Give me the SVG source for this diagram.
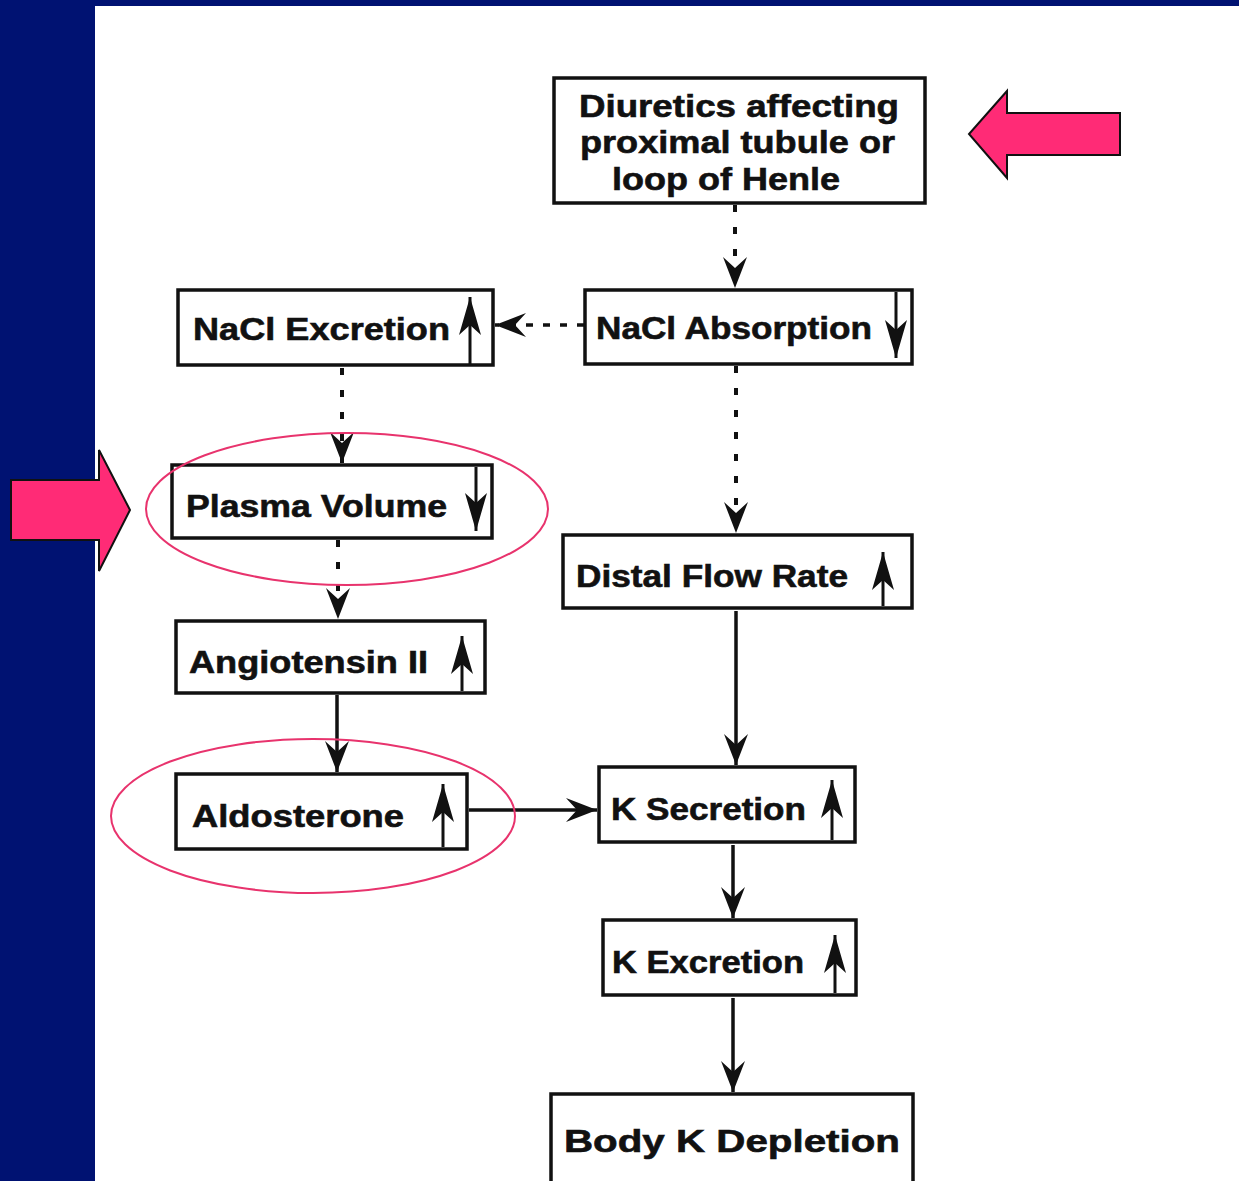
<svg xmlns="http://www.w3.org/2000/svg" width="1239" height="1181" viewBox="0 0 1239 1181">
  <defs>
    <style>
      .box { fill: #ffffff; stroke: #111111; stroke-width: 3.5; }
      .lbl { font-family: "Liberation Sans", Arial, sans-serif; font-weight: bold; font-size: 31px; fill: #111111; stroke: #111111; stroke-width: 0.6; }
      .solid { fill: none; stroke: #111111; stroke-width: 3.5; }
      .dotted { fill: none; stroke: #111111; stroke-width: 4; stroke-dasharray: 7 15; }
      .dashed { fill: none; stroke: #111111; stroke-width: 3.5; stroke-dasharray: 7 10; }
      .ind { fill: none; stroke: #111111; stroke-width: 3; }
      .ring { fill: none; stroke: #e8336d; stroke-width: 2; }
      .pink { fill: #ff2b76; stroke: #111111; stroke-width: 2; stroke-linejoin: miter; }
    </style>
    <!-- notched arrowhead for flow connectors -->
    <marker id="head" markerUnits="userSpaceOnUse" viewBox="-34 -14 36 28" refX="0" refY="0" markerWidth="36" markerHeight="28" orient="auto">
      <path d="M0,0 L-31,-12 L-20,0 L-31,12 Z" fill="#111111"/>
    </marker>
    <!-- slim arrowhead for the up/down change indicators -->
    <marker id="tick" markerUnits="userSpaceOnUse" viewBox="-40 -13 42 26" refX="0" refY="0" markerWidth="42" markerHeight="26" orient="auto">
      <path d="M0,0 L-38,-11 L-28,0 L-38,11 Z" fill="#111111"/>
    </marker>
  </defs>

  <!-- slide frame -->
  <rect x="0" y="0" width="1239" height="1181" fill="#001272"/>
  <rect x="95" y="6" width="1144" height="1175" fill="#ffffff"/>

  <!-- connectors -->
  <g id="connectors">
    <path class="dotted" d="M735,205 V288" marker-end="url(#head)"/>
    <path class="dashed" d="M584,325 H495" marker-end="url(#head)"/>
    <path class="dotted" d="M342,368 V463" marker-end="url(#head)"/>
    <path class="dotted" d="M736,366 V533" marker-end="url(#head)"/>
    <path class="dotted" d="M338,540 V619" marker-end="url(#head)"/>
    <path class="solid" d="M337,695 V772" marker-end="url(#head)"/>
    <path class="solid" d="M736,611 V765" marker-end="url(#head)"/>
    <path class="solid" d="M469,810 H597" marker-end="url(#head)"/>
    <path class="solid" d="M733,845 V918" marker-end="url(#head)"/>
    <path class="solid" d="M733,998 V1092" marker-end="url(#head)"/>
  </g>

  <!-- nodes -->
  <g id="diuretics">
    <rect class="box" x="554" y="78" width="371" height="125"/>
    <text class="lbl" x="579" y="117" textLength="320" lengthAdjust="spacingAndGlyphs">Diuretics affecting</text>
    <text class="lbl" x="580" y="153" textLength="315" lengthAdjust="spacingAndGlyphs">proximal tubule or</text>
    <text class="lbl" x="612" y="190" textLength="228" lengthAdjust="spacingAndGlyphs">loop of Henle</text>
  </g>

  <g id="nacl-excretion">
    <rect class="box" x="178" y="290" width="315" height="75"/>
    <text class="lbl" x="193" y="340" textLength="257" lengthAdjust="spacingAndGlyphs">NaCl Excretion</text>
    <path class="ind" d="M470,364 V297" marker-end="url(#tick)"/>
  </g>

  <g id="nacl-absorption">
    <rect class="box" x="585" y="290" width="327" height="74"/>
    <text class="lbl" x="596" y="339" textLength="276" lengthAdjust="spacingAndGlyphs">NaCl Absorption</text>
    <path class="ind" d="M896,292 V358" marker-end="url(#tick)"/>
  </g>

  <g id="plasma-volume">
    <rect class="box" x="172" y="465" width="320" height="73"/>
    <text class="lbl" x="186" y="517" textLength="261" lengthAdjust="spacingAndGlyphs">Plasma Volume</text>
    <path class="ind" d="M476,467 V531" marker-end="url(#tick)"/>
  </g>

  <g id="distal-flow-rate">
    <rect class="box" x="563" y="535" width="349" height="73"/>
    <text class="lbl" x="576" y="587" textLength="272" lengthAdjust="spacingAndGlyphs">Distal Flow Rate</text>
    <path class="ind" d="M883,606 V552" marker-end="url(#tick)"/>
  </g>

  <g id="angiotensin">
    <rect class="box" x="176" y="621" width="309" height="72"/>
    <text class="lbl" x="189" y="673" textLength="239" lengthAdjust="spacingAndGlyphs">Angiotensin II</text>
    <path class="ind" d="M462,691 V636" marker-end="url(#tick)"/>
  </g>

  <g id="aldosterone">
    <rect class="box" x="176" y="774" width="291" height="75"/>
    <text class="lbl" x="192" y="827" textLength="212" lengthAdjust="spacingAndGlyphs">Aldosterone</text>
    <path class="ind" d="M443,847 V784" marker-end="url(#tick)"/>
  </g>

  <g id="k-secretion">
    <rect class="box" x="599" y="767" width="256" height="75"/>
    <text class="lbl" x="611" y="820" textLength="195" lengthAdjust="spacingAndGlyphs">K Secretion</text>
    <path class="ind" d="M832,840 V780" marker-end="url(#tick)"/>
  </g>

  <g id="k-excretion">
    <rect class="box" x="603" y="920" width="253" height="75"/>
    <text class="lbl" x="612" y="973" textLength="192" lengthAdjust="spacingAndGlyphs">K Excretion</text>
    <path class="ind" d="M835,993 V935" marker-end="url(#tick)"/>
  </g>

  <g id="body-k-depletion">
    <rect class="box" x="551" y="1094" width="362" height="100"/>
    <text class="lbl" x="564" y="1152" textLength="336" lengthAdjust="spacingAndGlyphs">Body K Depletion</text>
  </g>

  <!-- highlight rings -->
  <g id="highlights">
    <ellipse class="ring" cx="347" cy="509" rx="201" ry="76"/>
    <ellipse class="ring" cx="313" cy="816" rx="202" ry="77"/>
  </g>

  <!-- pointer arrows -->
  <g id="pointer-right">
    <path class="pink" d="M1120,113 H1007 V91 L969,134 L1007,178 V155 H1120 Z"/>
  </g>
  <g id="pointer-left">
    <path class="pink" d="M11,480 H99 V450 L130,510 L99,571 V540 H11 Z"/>
  </g>
</svg>
